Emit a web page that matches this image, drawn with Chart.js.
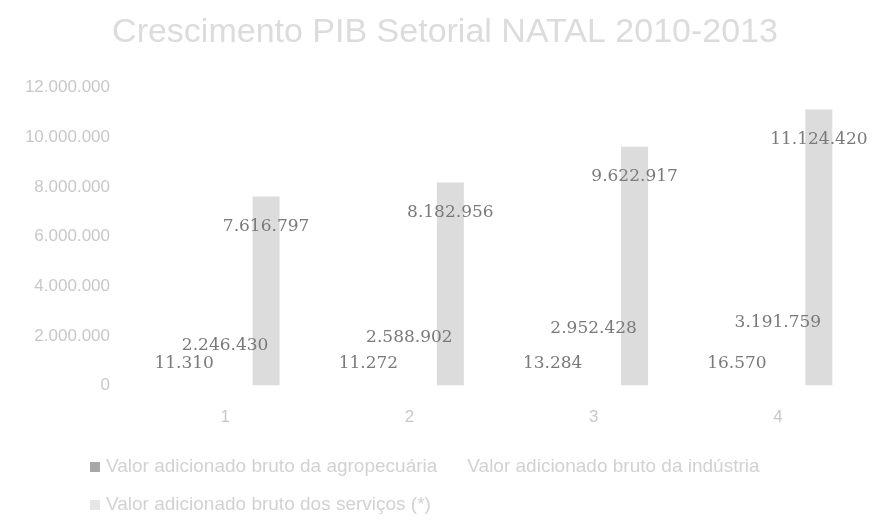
<!DOCTYPE html>
<html>
<head>
<meta charset="utf-8">
<script src="https://cdn.jsdelivr.net/npm/chart.js@4.4.1/dist/chart.umd.min.js"></script>
<style>
  html, body { margin: 0; padding: 0; background: #ffffff; }
  #box { width: 873px; height: 520px; }
</style>
</head>
<body>
<div id="box"><canvas id="pib-chart"></canvas></div>
<script>
// Data
const categorias = ['1', '2', '3', '4'];
const agropecuaria = [11310, 11272, 13284, 16570];
const industria = [2246430, 2588902, 2952428, 3191759];
const servicos = [7616797, 8182956, 9622917, 11124420];
const nomesSeries = [
  'Valor adicionado bruto da agropecuária',
  'Valor adicionado bruto da indústria',
  'Valor adicionado bruto dos serviços (*)'
];
const ticksY = [0, 2000000, 4000000, 6000000, 8000000, 10000000, 12000000];

// "7616797" -> "7.616.797"
function formatar(n) {
  return String(Math.round(n)).replace(/\B(?=(\d{3})+(?!\d))/g, '.');
}

// Data labels, shifted from the bar end (per series)
const deslocLabel = [-22, 16, 30];
const rotulos = {
  id: 'rotulos',
  afterDatasetsDraw(chart) {
    const ctx = chart.ctx;
    ctx.save();
    ctx.font = '17px "DejaVu Serif"';
    ctx.fillStyle = '#7a7a7a';
    ctx.textAlign = 'center';
    ctx.textBaseline = 'middle';
    chart.data.datasets.forEach((ds, i) => {
      const meta = chart.getDatasetMeta(i);
      meta.data.forEach((bar, j) => {
        ctx.fillText(formatar(ds.data[j]), bar.x, bar.y + deslocLabel[i]);
      });
    });
    ctx.restore();
  }
};

// Legend at the bottom, left aligned, wraps to a second row
const legenda = {
  id: 'legenda',
  afterDraw(chart) {
    const ctx = chart.ctx;
    ctx.save();
    ctx.font = '19px "Liberation Sans"';
    ctx.textBaseline = 'middle';
    let x = 90, y = 467;
    chart.data.datasets.forEach(ds => {
      const w = 16 + ctx.measureText(ds.label).width;
      if (x + w > 860) { x = 90; y += 38; }
      ctx.fillStyle = ds.legendColor;
      ctx.fillRect(x, y - 5, 10, 10);
      ctx.fillStyle = '#d2d2d2';
      ctx.textAlign = 'left';
      ctx.fillText(ds.label, x + 16, y);
      x += w + 14;
    });
    ctx.restore();
  }
};

const chartData = {
  labels: categorias,
  datasets: [
    { label: nomesSeries[0], data: agropecuaria, backgroundColor: '#f4f4f4', legendColor: '#a8a8a8' },
    { label: nomesSeries[1], data: industria, backgroundColor: '#ffffff', legendColor: '#ffffff' },
    { label: nomesSeries[2], data: servicos, backgroundColor: '#dcdcdc', legendColor: '#e6e6e6' }
  ]
};

new Chart('pib-chart', {
  type: 'bar',
  data: chartData,
  options: {
    responsive: true,
    maintainAspectRatio: false,
    animation: false,
    layout: { padding: { left: 20, right: 3, top: 0, bottom: 70 } },
    datasets: { bar: { categoryPercentage: 0.667, barPercentage: 0.66 } },
    plugins: {
      legend: { display: false },
      tooltip: { enabled: false },
      title: {
        display: true,
        text: 'Crescimento PIB Setorial NATAL 2010-2013',
        color: '#dcdcdc',
        font: { family: '"Liberation Sans"', size: 34, weight: 'normal' },
        padding: { top: 12, bottom: 35 }
      }
    },
    scales: {
      x: {
        grid: { display: false, drawTicks: false },
        border: { display: false },
        ticks: {
          color: '#c8c8c8',
          padding: 22,
          font: { family: '"Liberation Sans"', size: 17 }
        }
      },
      y: {
        min: 0,
        max: 12000000,
        afterFit(scale) { scale.width = 113; },
        afterBuildTicks(scale) { scale.ticks = ticksY.map(v => ({ value: v })); },
        grid: { display: false, drawTicks: false },
        border: { display: false },
        ticks: {
          color: '#c8c8c8',
          padding: 23,
          font: { family: '"Liberation Sans"', size: 17 },
          callback: v => formatar(v)
        }
      }
    }
  },
  plugins: [rotulos, legenda]
});
</script>
</body>
</html>
